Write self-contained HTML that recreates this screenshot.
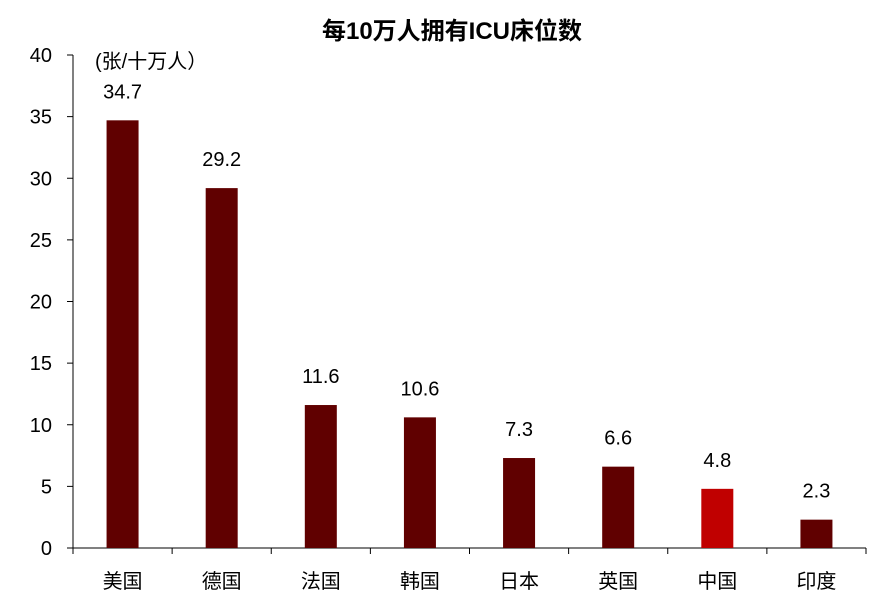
<!DOCTYPE html>
<html><head><meta charset="utf-8"><style>
body{margin:0;background:#fff;width:888px;height:608px;overflow:hidden}
svg text{font-family:"Liberation Sans","Noto Sans CJK SC",sans-serif;fill:#000}
</style></head><body>
<svg id="c" width="888" height="608">
<text x="452" y="39" text-anchor="middle" font-size="24" font-weight="bold">每10万人拥有ICU床位数</text>
<text x="95" y="68" font-size="20">(张/十万人）</text>
<g id="axes"></g><g id="bars"></g>
</svg>
<script>
const categories=["美国","德国","法国","韩国","日本","英国","中国","印度"];
const values=[34.7,29.2,11.6,10.6,7.3,6.6,4.8,2.3];
const yTicks=[0,5,10,15,20,25,30,35,40];
const x0=73,x1=866,yBase=548,yTop=55,yMax=40;
const step=(x1-x0)/categories.length;
const y=v=>yBase-(v/yMax)*(yBase-yTop);
const xc=i=>x0+step*(i+0.5);
const NS="http://www.w3.org/2000/svg";
const ax=document.getElementById("axes"),bg=document.getElementById("bars");
function mk(t,a,p){const e=document.createElementNS(NS,t);for(const k in a)e.setAttribute(k,a[k]);p.appendChild(e);return e;}
const yl=mk("line",{x1:x0,y1:yTop,x2:x0,y2:yBase,stroke:"#000","stroke-width":1},ax);


const xl=mk("line",{x1:x0,y1:yBase,x2:x1,y2:yBase,stroke:"#000","stroke-width":1},ax);


yTicks.forEach(t=>{
 mk("line",{x1:x0-6,y1:y(t),x2:x0,y2:y(t),stroke:"#000"},ax);
 const tx=mk("text",{x:52,y:y(t)+7,"text-anchor":"end","font-size":20},ax);
 tx.textContent=t;
 
 
});
for(let i=0;i<=categories.length;i++){mk("line",{x1:x0+step*i,y1:yBase,x2:x0+step*i,y2:yBase+6,stroke:"#000"},ax);}
categories.forEach((c,i)=>{
 const r=mk("rect",{x:xc(i)-16,y:y(values[i]),width:32,height:yBase-y(values[i]),fill:c==="中国"?"#C00000":"#600000"},bg);
 
 
 const v=mk("text",{x:xc(i),y:y(values[i])-22,"text-anchor":"middle","font-size":20},bg);
 v.textContent=values[i];
 
 
 const l=mk("text",{x:xc(i),y:588,"text-anchor":"middle","font-size":20},bg);
 l.textContent=c;
 
 
});
</script>
</body></html>
